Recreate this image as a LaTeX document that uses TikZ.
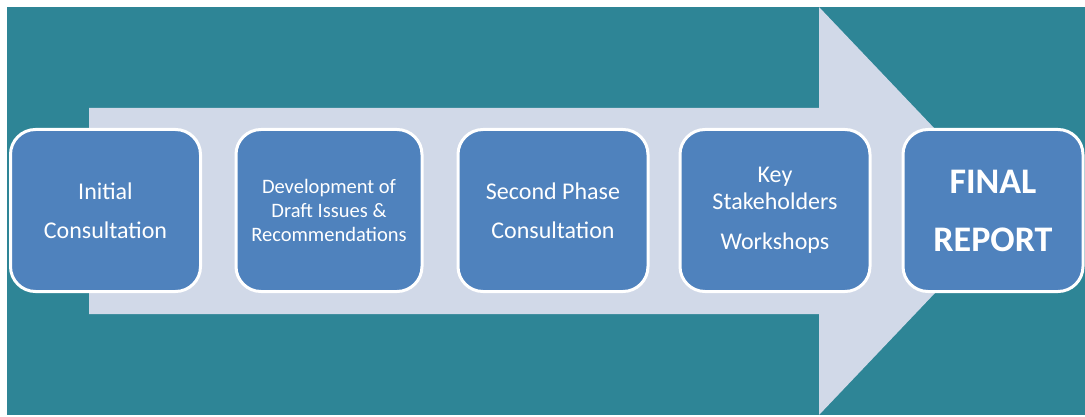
\documentclass[tikz,border=0pt]{standalone}
\usepackage{fontspec}
\setmainfont{Carlito}
\usepackage{tikz}
\usetikzlibrary{calc}
\definecolor{deepteal}{rgb}{0.18, 0.52, 0.59}
\definecolor{lavendermist}{rgb}{0.82, 0.85, 0.91}
\definecolor{steelblue}{rgb}{0.31, 0.51, 0.74}
\tikzset{
	stage/.style={rounded corners=25pt, fill=steelblue, draw=white, line width=3pt, text=white, minimum width=190pt, minimum height=162pt, align=center, inner sep=0pt, font=\fontsize{24}{39}\selectfont}
}

\begin{document}
\begin{tikzpicture}[x=1pt, y=-1pt]
	\useasboundingbox (0,0) rectangle (1085,417);
	\fill[deepteal] (7,7) rectangle (1085,415);
	
	% big arrow behind the stages
	\coordinate (tail top) at (89,108);
	\coordinate (head top) at (819,7);
	\coordinate (tip) at (1013,211);
	\coordinate (head bottom) at (819,415);
	\coordinate (tail bottom) at (89,314);
	\fill[lavendermist] (tail top) -- (tail top -| head top) -- (head top) -- (tip) -- (head bottom) -- (tail bottom -| head bottom) -- (tail bottom) -- cycle;
	
	% stages
	\coordinate (S1) at (105.5,210.5);
	\coordinate (S2) at (329,210.5);
	\coordinate (S3) at (553,210.5);
	\coordinate (S4) at (775,210.5);
	\coordinate (S5) at (993,210.5);
	
	\node[stage] (initial) at (S1) {Initial\\Consultation};
	\node[stage, minimum width=186pt, font=\fontsize{20.5}{24}\selectfont] (draft) at (S2) {Development of\\Draft Issues \&\\Recommendations};
	\node[stage] (second) at (S3) {Second Phase\\Consultation};
	\node[stage, font=\fontsize{24}{27}\selectfont] (workshops) at (S4) {Key\\Stakeholders\\[13pt]Workshops};
	\node[stage, minimum width=180pt, font=\bfseries\fontsize{36}{58}\selectfont] (final) at (S5) {FINAL\\REPORT};
	
\end{tikzpicture}
\end{document}
